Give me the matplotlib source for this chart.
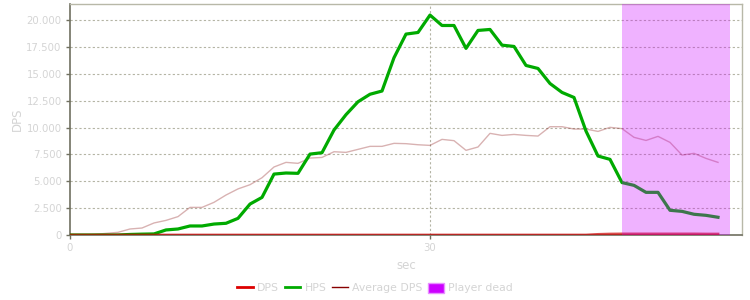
import matplotlib
matplotlib.use("Agg")
import matplotlib.pyplot as plt
from matplotlib.lines import Line2D
from matplotlib.patches import Patch
from matplotlib.ticker import FuncFormatter

seconds = list(range(0, 55))
hps = [0, 0, 0, 0, 0, 50, 80, 100, 470, 560, 840, 840, 1020, 1090, 1550,
       2880, 3500, 5670, 5770, 5740, 7530, 7660, 9770, 11200, 12400, 13100,
       13400, 16500, 18700, 18850, 20470, 19500, 19500, 17370, 19040, 19130,
       17670, 17550, 15780, 15500, 14100, 13270, 12800, 9670, 7350, 7040,
       4880, 4620, 3970, 3970, 2300, 2200, 1930, 1830, 1650]
avg_dps = [0, 0, 50, 150, 250, 560, 650, 1120, 1360, 1710, 2570, 2570, 3040,
           3720, 4290, 4680, 5330, 6330, 6760, 6670, 7160, 7220, 7750, 7690,
           7970, 8250, 8250, 8530, 8500, 8400, 8340, 8900, 8780, 7880, 8190,
           9460, 9270, 9360, 9270, 9210, 10080, 10080, 9860, 9860, 9640, 10020,
           9900, 9090, 8800, 9180, 8620, 7440, 7600, 7130, 6760]
dps = [0] * 44 + [60, 90, 100, 100, 100, 100, 100, 100, 100, 90, 90]
dead_start, dead_end = 46, 55
x_ticks = [0, 30]
y_ticks = [0, 2500, 5000, 7500, 10000, 12500, 15000, 17500, 20000]

fig = plt.figure(figsize=(7.5, 3.0), dpi=100)
ax = fig.add_axes([70/750, 1-235/300, 672/750, 231/300])

txt = "#d4d4d4"
ax.plot(seconds, avg_dps, color="#800000", lw=1.0, alpha=0.3, zorder=3)
ax.plot(seconds, hps, color="#00aa00", lw=2.3, zorder=4)
ax.plot(seconds, dps, color="#cc0000", lw=2.0, alpha=0.7, zorder=5)
ax.axvspan(dead_start, dead_end, color="#cc00ff", alpha=0.3, lw=0, zorder=6)

ax.set_xlim(0, 56)
ax.set_ylim(0, 21500)
ax.set_xticks(x_ticks)
ax.set_yticks(y_ticks)
ax.yaxis.set_major_formatter(FuncFormatter(lambda v, p: f"{int(v):,}".replace(",", ".")))
ax.grid(True, axis="y", color="#b4b4a4", ls=(0, (2, 2)), lw=0.8, zorder=1)
ax.axvline(30, color="#b4b4a4", ls=(0, (2, 2)), lw=0.8, zorder=1)

for s in ("left", "bottom"):
    ax.spines[s].set_color("#707060")
    ax.spines[s].set_linewidth(1.2)
for s in ("top", "right"):
    ax.spines[s].set_color("#b8b8a8")
    ax.spines[s].set_linewidth(1.0)

ax.tick_params(axis="both", colors="#707060", labelcolor=txt, labelsize=7.3,
               length=3, width=1, pad=3)
ax.set_ylabel("DPS", color=txt, fontsize=8.5, labelpad=2)
ax.set_xlabel("sec", color=txt, fontsize=8.5, labelpad=4)

handles = [
    Line2D([], [], color="#dd0000", lw=2),
    Line2D([], [], color="#00aa00", lw=2),
    Line2D([], [], color="#880000", lw=1),
    Patch(facecolor="#cc00ff", edgecolor="#e890ff", lw=1),
]
labels = ["DPS", "HPS", "Average DPS", "Player dead"]
fig.legend(handles, labels, loc="center", bbox_to_anchor=(0.5, 1-288/300),
           ncol=4, frameon=False, fontsize=7.8, labelcolor=txt,
           handlelength=1.45, handletextpad=0.4, columnspacing=0.5,
           handleheight=1.1, borderpad=0.2)

fig.savefig("out.png", dpi=100)
